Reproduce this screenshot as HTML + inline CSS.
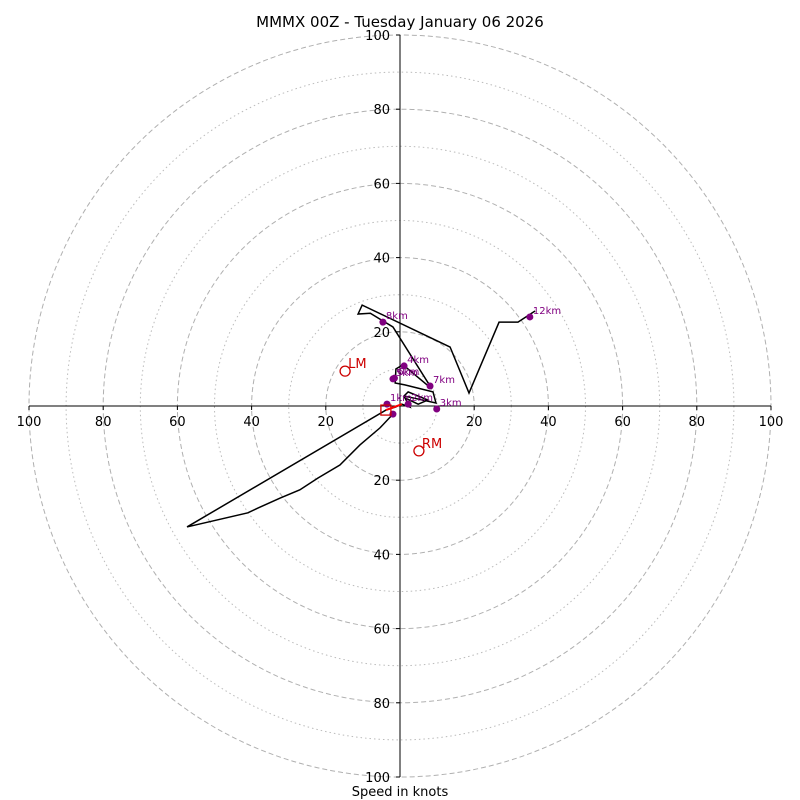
<!DOCTYPE html>
<html><head><meta charset="utf-8"><style>
body{margin:0;background:#fff}
svg{display:block;font-family:"DejaVu Sans","Liberation Sans",sans-serif}
</style></head><body>
<svg id="c" width="800" height="800"></svg>
<script>
const ringValues=[10,20,30,40,50,60,70,80,90,100];
const tickLabels=[20,40,60,80,100];
const windU=[-1.9,-5.4,-10.8,-16.2,-22.1,-27.0,-32.3,-38.3,-41.0,-57.4,-3.8,-1.3,0.5,2.7,1.3,4.9,7.5,2.2,1.1,9.7,8.9,1.3,-1.3,-1.1,0.8,8.6,-1.9,-8.0,-11.3,-10.2,13.5,18.6,26.7,31.8,36.4];
const windV=[-2.2,-5.9,-10.5,-15.9,-19.4,-22.6,-24.8,-27.5,-28.8,-32.6,-1.1,-0.3,0.5,-0.3,2.2,0.5,1.6,3.8,2.7,0.8,3.8,5.7,6.2,10.0,11.1,4.6,21.3,25.0,24.8,27.2,15.9,3.5,22.6,22.6,25.6];
const levelLabels=["1km","2km","3km","4km","5km","6km","7km","8km","12km"];
const levelU=[-3.5,2.2,9.9,1.1,-1.9,-1.5,8.1,-4.6,35.0];
const levelV=[0.5,0.5,-0.8,10.8,7.3,7.5,5.4,22.6,24.0];
const lmU=-14.8, lmV=9.4, rmU=5.1, rmV=-12.1;
const cx=400, cy=406, s=3.71;
const X=u=>cx+u*s, Y=v=>cy-v*s;
const svg=document.getElementById('c');
const NS='http://www.w3.org/2000/svg';
function mk(t,a,p){const e=document.createElementNS(NS,t);for(const k in a)e.setAttribute(k,a[k]);(p||svg).appendChild(e);return e;}
let e;
e=mk('text',{x:400,y:27,'text-anchor':'middle','font-size':15});e.textContent='MMMX 00Z - Tuesday January 06 2026';


ringValues.forEach(r=>{
 e=mk('circle',{cx:cx,cy:cy,r:r*s,fill:'none',stroke:r%20?'#bbb':'#b0b0b0','stroke-width':1,'stroke-dasharray':r%20?'1.5,3':'5,3'});
 
 
});
e=mk('line',{x1:X(-100),y1:cy,x2:X(100),y2:cy,stroke:'#000'});


e=mk('line',{x1:cx,y1:Y(100),x2:cx,y2:Y(-100),stroke:'#000'});


tickLabels.forEach(t=>{
 [1,-1].forEach(sg=>{
  mk('line',{x1:X(sg*t),y1:cy,x2:X(sg*t),y2:cy+4,stroke:'#000'});
  e=mk('text',{x:X(sg*t),y:cy+20,'text-anchor':'middle','font-size':13});e.textContent=t;
  
  
  mk('line',{x1:cx-4,y1:Y(sg*t),x2:cx,y2:Y(sg*t),stroke:'#000'});
  e=mk('text',{x:cx-10,y:Y(sg*t)+5,'text-anchor':'end','font-size':13});e.textContent=t;
  
  
 });
});
e=mk('text',{x:400,y:796,'text-anchor':'middle','font-size':13});e.textContent='Speed in knots';


e=mk('polyline',{points:windU.map((u,i)=>X(u)+','+Y(windV[i])).join(' '),fill:'none',stroke:'#000','stroke-width':1.5});


e=mk('circle',{cx:X(windU[0]),cy:Y(windV[0]),r:3.5,fill:'purple'});


levelLabels.forEach((l,i)=>{
 e=mk('circle',{cx:X(levelU[i]),cy:Y(levelV[i]),r:3.5,fill:'purple'});
 
 
 e=mk('text',{x:X(levelU[i])+3,y:Y(levelV[i])-3,'font-size':10,fill:'purple'});e.textContent=l;
 
 
});
e=mk('rect',{x:X(-3.8)-5,y:Y(-1.1)-5,width:10,height:10,fill:'none',stroke:'#c00','stroke-width':1.3});


e=mk('line',{x1:X(-3.8),y1:Y(-1.1),x2:X(0.5),y2:Y(0.5),stroke:'red','stroke-width':2});


[[lmU,lmV,'LM'],[rmU,rmV,'RM']].forEach(m=>{
 e=mk('circle',{cx:X(m[0]),cy:Y(m[1]),r:5,fill:'none',stroke:'#c00','stroke-width':1.3});
 
 
 e=mk('text',{x:X(m[0])+3,y:Y(m[1])-3,'font-size':13,fill:'#c00'});e.textContent=m[2];
 
 
});
</script>
</body></html>
